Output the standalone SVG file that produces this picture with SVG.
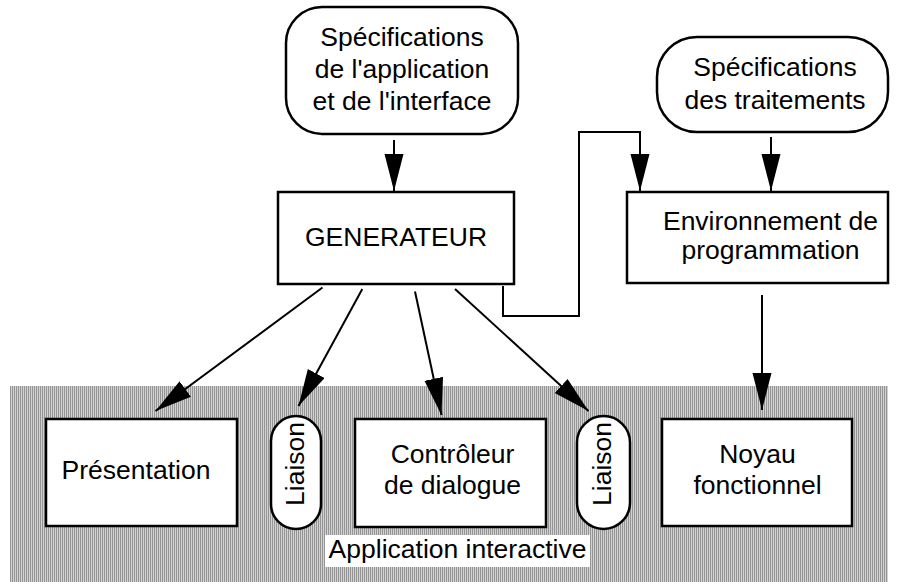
<svg xmlns="http://www.w3.org/2000/svg" width="904" height="582" viewBox="0 0 904 582">
<style>
text{font-family:"Liberation Sans",Arial,sans-serif;font-size:26.5px;fill:#000;text-anchor:middle}
.box{fill:#fff;stroke:#000;stroke-width:2.5}
.con{fill:none;stroke:#000;stroke-width:2}
</style>
<defs>
<pattern id="hatch" width="2" height="2" patternUnits="userSpaceOnUse">
<rect width="2" height="2" fill="#d2d2d2"/>
<rect width="1" height="2" fill="#959595"/>
</pattern>
<marker id="ah" markerUnits="userSpaceOnUse" markerWidth="38" markerHeight="20" refX="37" refY="9.5" orient="auto">
<path d="M0,0 L37,9.5 L0,19 z" fill="#000"/>
</marker>
</defs>
<rect x="10" y="386" width="878" height="196" fill="url(#hatch)"/>
<g id="label-app">
<rect x="325" y="535" width="265" height="32" fill="#fff"/>
<text x="457.5" y="558">Application interactive</text>
</g>
<g id="spec-app">
<rect class="box" x="286" y="7" width="232" height="127" rx="36"/>
<text x="402" y="45.5">Spécifications</text>
<text x="402" y="77.5">de l'application</text>
<text x="402" y="109.5">et de l'interface</text>
</g>
<g id="spec-trait">
<rect class="box" x="657" y="37" width="231" height="95" rx="40"/>
<text x="775" y="76">Spécifications</text>
<text x="775" y="108.5">des traitements</text>
</g>
<g id="generateur">
<rect class="box" x="278" y="192" width="236" height="92"/>
<text x="396" y="246">GENERATEUR</text>
</g>
<g id="environnement">
<rect class="box" x="627" y="192" width="261" height="91"/>
<text x="770.5" y="230">Environnement de</text>
<text x="770.5" y="259">programmation</text>
</g>
<g id="presentation">
<rect class="box" x="46" y="419" width="191" height="107"/>
<text x="136" y="479">Présentation</text>
</g>
<g id="liaison1">
<rect class="box" x="271" y="416" width="50" height="113" rx="25"/>
<text transform="translate(304,464) rotate(-90)">Liaison</text>
</g>
<g id="controleur">
<rect class="box" x="355" y="419" width="191" height="108"/>
<text x="452.5" y="462.5">Contrôleur</text>
<text x="452.5" y="493.5">de dialogue</text>
</g>
<g id="liaison2">
<rect class="box" x="577" y="416" width="53" height="113" rx="26.5"/>
<text transform="translate(611,464) rotate(-90)">Liaison</text>
</g>
<g id="noyau">
<rect class="box" x="662" y="419" width="190" height="107"/>
<text x="757.5" y="462.5">Noyau</text>
<text x="757.5" y="493.5">fonctionnel</text>
</g>
<g id="connectors">
<line class="con" x1="394" y1="140" x2="394" y2="191" marker-end="url(#ah)"/>
<line class="con" x1="771" y1="137" x2="771" y2="191" marker-end="url(#ah)"/>
<polyline class="con" points="503,286 503,316 579,316 579,132 640,132 640,191" marker-end="url(#ah)"/>
<line class="con" x1="762" y1="295" x2="762" y2="410" marker-end="url(#ah)"/>
<line class="con" x1="322.5" y1="287.5" x2="155.5" y2="411" marker-end="url(#ah)"/>
<line class="con" x1="362.3" y1="289" x2="298.5" y2="406" marker-end="url(#ah)"/>
<line class="con" x1="415" y1="291.5" x2="441.5" y2="415" marker-end="url(#ah)"/>
<line class="con" x1="455" y1="289" x2="588.5" y2="411" marker-end="url(#ah)"/>
</g>
</svg>
